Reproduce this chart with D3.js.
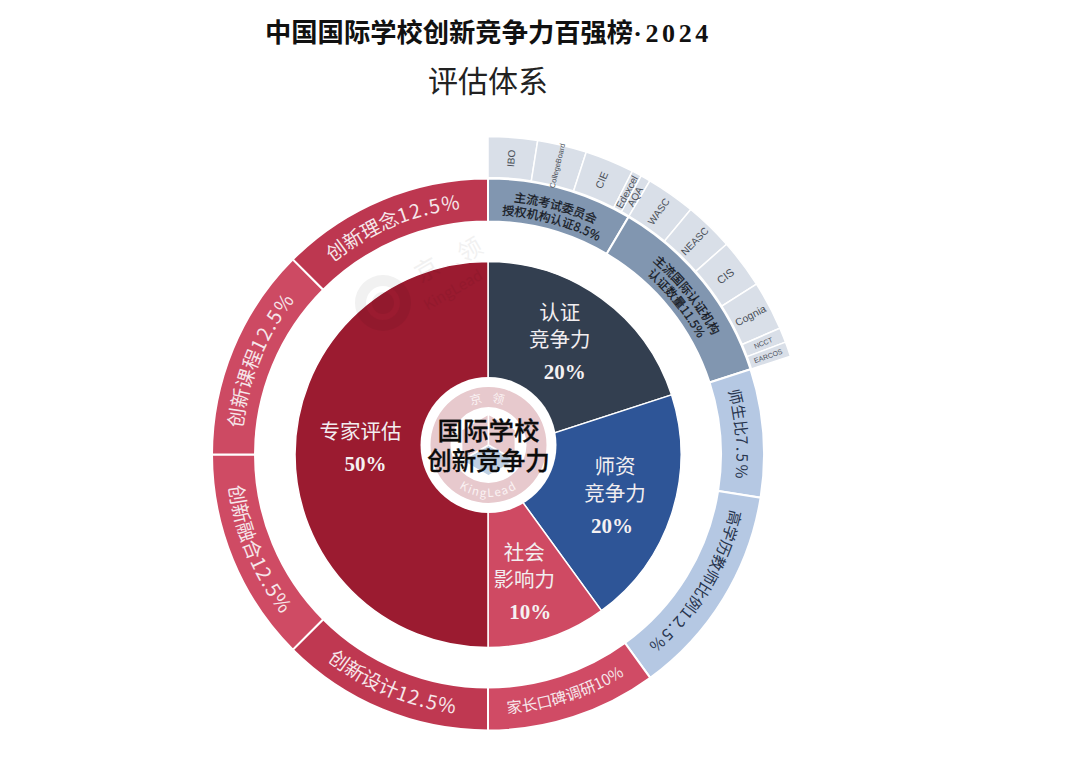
<!DOCTYPE html>
<html>
<head>
<meta charset="utf-8">
<script src="https://cdn.jsdelivr.net/npm/d3@7"></script>
<style>
  html, body { margin: 0; background: #fff; }
  text { font-family: "Noto Sans CJK SC", "Noto Sans", sans-serif; }
</style>
</head>
<body>
<div id="chart"></div>
<script>
// inner pie
const innerNames = [["认证", "竞争力"], ["师资", "竞争力"], ["社会", "影响力"], ["专家评估"]];
const innerValues = [20, 20, 10, 50];

// middle ring
const ringNames = ["主流考试委员会|授权机构认证8.5%", "主流国际认证机构|认证数量11.5%", "师生比7.5%", "高学历教师比例12.5%",
  "家长口碑调研10%", "创新设计12.5%", "创新融合12.5%", "创新课程12.5%", "创新理念12.5%"];
const ringValues = [8.5, 11.5, 7.5, 12.5, 10, 12.5, 12.5, 12.5, 12.5];

// outer ring, only over the certification part
const outerNames = ["IBO", "CollegeBoard", "CIE", "Edexcel", "AQA", "WASC", "NEASC", "CIS", "Cognia", "NCCT", "EARCOS"];
const outerValues = [2.5, 2.5, 2.5, 0.5, 0.5, 2.5, 2.5, 2.5, 2.5, 0.75, 0.75];

const width = 1080, height = 761;
const cx = 488, cy = 454.5;

const innerColors = ["#333f50", "#2e5597", "#cf4a63", "#9b1b30"];
const ringColors = ["#8196b0", "#8196b0", "#b5c8e3", "#b5c8e3", "#d04b65", "#bf3851", "#cf4b64", "#cd4a63", "#bd3750"];
const outerColor = "#d9dfe8";

const innerNudge = [[-5, -9, 5], [3, -1, -3], [-4, 1, 6], [3, -23, 5]];
const outerFont = [10, 7.5, 10.5, 10, 10, 10, 10, 11, 10.5, 7, 7];

const svg = d3.select("#chart").append("svg")
  .attr("width", width)
  .attr("height", height)
  .style("display", "block");

const angle = d3.scaleLinear().domain([0, 100]).range([0, 2 * Math.PI]);

function segments(values) {
  const ends = Array.from(d3.cumsum(values));
  return values.map((v, i) => ({
    index: i,
    startAngle: angle(ends[i] - v),
    endAngle: angle(ends[i])
  }));
}

// path along a circle, used by the curved labels
function arcLine(r, a0, a1, clockwise) {
  const p = d3.path();
  const s = a0 - Math.PI / 2, e = a1 - Math.PI / 2;
  p.moveTo(r * Math.cos(s), r * Math.sin(s));
  p.arc(0, 0, r, s, e, !clockwise);
  return p.toString();
}

let pathId = 0;
function curvedText(parent, str, r, a0, a1, clockwise, size, fill, opts = {}) {
  const id = "curve" + (pathId++);
  svg.select("defs").append("path").attr("id", id).attr("d", arcLine(r, a0, a1, clockwise));
  const t = parent.append("text")
    .attr("font-size", size)
    .attr("fill", fill)
    .attr("stroke", opts.stroke || "none")
    .attr("stroke-width", opts.stroke ? 0.25 : 0)
    .attr("text-anchor", "middle")
    .append("textPath")
    .attr("href", "#" + id)
    .attr("startOffset", "50%");
  if (opts.spacing) t.attr("letter-spacing", opts.spacing);
  // numbers in the ring labels are set wider than the Chinese
  const m = str.match(/^(.*?)([\d.]+%)$/);
  if (m) {
    t.append("tspan").text(m[1]);
    t.append("tspan").attr("letter-spacing", opts.numSpacing || 0).text(m[2]);
  } else {
    t.text(str);
  }
}

svg.append("defs");

// title
const title = svg.append("text")
  .attr("x", 265).attr("y", 42)
  .attr("font-weight", 700).attr("fill", "#111");
title.append("tspan").attr("font-size", 26.3).text("中国国际学校创新竞争力百强榜");
title.append("tspan")
  .attr("font-size", 26)
  .attr("letter-spacing", 3.6)
  .style("font-family", "'Liberation Serif', serif")
  .text("·2024");
svg.append("text")
  .attr("x", 488).attr("y", 92)
  .attr("text-anchor", "middle")
  .attr("font-size", 30).attr("fill", "#222")
  .text("评估体系");

const chart = svg.append("g").attr("transform", `translate(${cx},${cy})`);

const arcInner = d3.arc().innerRadius(0).outerRadius(193);
const arcRing = d3.arc().innerRadius(233).outerRadius(276);
const arcOuter = d3.arc().innerRadius(277).outerRadius(318);

const innerSeg = segments(innerValues);
const ringSeg = segments(ringValues);
const outerSeg = segments(outerValues);

chart.selectAll(".inner").data(innerSeg).join("path")
  .attr("class", "inner")
  .attr("d", arcInner)
  .attr("fill", d => innerColors[d.index])
  .attr("stroke", "#fff").attr("stroke-width", 1.5);

chart.selectAll(".ring").data(ringSeg).join("path")
  .attr("class", "ring")
  .attr("d", arcRing)
  .attr("fill", d => ringColors[d.index])
  .attr("stroke", "#fff").attr("stroke-width", 2);

chart.selectAll(".outer").data(outerSeg).join("path")
  .attr("class", "outer")
  .attr("d", arcOuter)
  .attr("fill", outerColor)
  .attr("stroke", "#fff").attr("stroke-width", 1.5);

// outer ring names run outward along the radius
chart.selectAll(".outerName").data(outerSeg).join("text")
  .attr("class", "outerName")
  .attr("transform", d => {
    const a = (d.startAngle + d.endAngle) / 2 * 180 / Math.PI;
    return `rotate(${a}) translate(0,-297) rotate(-90)`;
  })
  .attr("text-anchor", "middle")
  .attr("dy", "0.35em")
  .style("font-family", "'Liberation Sans', Arial, sans-serif")
  .attr("font-size", d => outerFont[d.index])
  .attr("fill", "#4a4f58")
  .text(d => outerNames[d.index]);

// ring labels
ringSeg.forEach(d => {
  const name = ringNames[d.index];
  const lower = d.index >= 4 && d.index <= 6; // these read the other way round
  if (name.includes("|")) {
    name.split("|").forEach((line, k) => {
      curvedText(chart, line, k === 0 ? 254 : 240, d.startAngle, d.endAngle, true, 12, "#15181e", { stroke: "#15181e" });
    });
  } else if (d.index < 4) {
    curvedText(chart, name, 248.5, d.startAngle, d.endAngle, true, 15.5, "#27344d", { numSpacing: 2 });
  } else if (lower) {
    const size = d.index === 4 ? 15.5 : 19.5;
    curvedText(chart, name, 254 + size * 0.36, d.endAngle, d.startAngle, false, size, "#f6e6ea",
      { numSpacing: d.index === 4 ? 0 : 1.5 });
  } else {
    curvedText(chart, name, 247, d.startAngle, d.endAngle, true, 19.5, "#f6e6ea", { numSpacing: 1.5 });
  }
});

// faint logo printed over the picture
const mark = svg.append("g").attr("opacity", 0.05).attr("fill", "#000");
mark.append("path")
  .attr("d", d3.arc().innerRadius(17).outerRadius(28)({ startAngle: 0, endAngle: 2 * Math.PI }))
  .attr("transform", "translate(383,303)");
mark.append("circle").attr("cx", 383).attr("cy", 303).attr("r", 11);
mark.append("text").attr("transform", "translate(427,270) rotate(-30)")
  .attr("font-size", 24).attr("dy", "0.35em").attr("text-anchor", "middle").text("京");
mark.append("text").attr("transform", "translate(470,250) rotate(-30)")
  .attr("font-size", 24).attr("dy", "0.35em").attr("text-anchor", "middle").text("领");
mark.append("text").attr("transform", "translate(453,290) rotate(-30)")
  .attr("font-size", 15).attr("dy", "0.35em").attr("text-anchor", "middle").text("KingLead");

// inner labels
innerSeg.forEach(d => {
  const [mx, my] = d3.arc().innerRadius(68).outerRadius(193).centroid(d);
  const [dx, dy, pctDx] = innerNudge[d.index];
  const g = chart.append("g").attr("transform", `translate(${mx + dx},${my + dy})`);
  const lines = innerNames[d.index];
  lines.forEach((line, k) => {
    g.append("text")
      .attr("y", (k - lines.length + 1) * 27)
      .attr("dy", "0.35em")
      .attr("text-anchor", "middle")
      .attr("font-size", 20.5)
      .attr("fill", "#f2eef0")
      .text(line);
  });
  g.append("text")
    .attr("x", pctDx)
    .attr("y", 32)
    .attr("dy", "0.35em")
    .attr("text-anchor", "middle")
    .attr("font-size", 21)
    .attr("font-weight", 700)
    .style("font-family", "'Liberation Serif', serif")
    .attr("fill", "#f5f1f2")
    .text(innerValues[d.index] + "%");
});

// centre badge
const lx = 488.5, ly = 445;
const badge = svg.append("g").attr("transform", `translate(${lx},${ly})`);
badge.append("circle").attr("r", 68).attr("fill", "#fff");
badge.append("path")
  .attr("d", d3.arc().innerRadius(38).outerRadius(58)({ startAngle: 0, endAngle: 2 * Math.PI }))
  .attr("fill", "#e7c9cd");

// cube made of three rhombi, two pink and one blue
const hex = d => d3.range(d.length).map(i => [d[i][1] * Math.sin(d[i][0]), -d[i][1] * Math.cos(d[i][0])]);
const deg = a => a * Math.PI / 180;
const cube = [
  { c: "#bfd0e3", pts: [[0, 0], [deg(120), 31], [deg(180), 31], [deg(240), 31]] },
  { c: "#e7c9cd", pts: [[0, 0], [deg(240), 31], [deg(300), 31], [deg(0), 31]] },
  { c: "#e7c9cd", pts: [[0, 0], [deg(0), 31], [deg(60), 31], [deg(120), 31]] }
];
badge.selectAll(".cube").data(cube).join("path")
  .attr("class", "cube")
  .attr("d", d => d3.line()(hex(d.pts)) + "Z")
  .attr("fill", d => d.c)
  .attr("stroke", "#fff").attr("stroke-width", 1.5);

curvedText(badge, "京  领", 43, deg(-40), deg(40), true, 12, "#fbf3f4", { spacing: 3 });
curvedText(badge, "KingLead", 52, deg(230), deg(130), false, 11.5, "#fbf3f4", { spacing: 1.5 });

badge.append("text")
  .attr("y", -14).attr("dy", "0.35em")
  .attr("text-anchor", "middle")
  .attr("font-size", 25.5).attr("font-weight", 500).attr("fill", "#0c0c0c")
  .attr("stroke", "#0c0c0c").attr("stroke-width", 0.3)
  .text("国际学校");
badge.append("text")
  .attr("y", 16).attr("dy", "0.35em")
  .attr("text-anchor", "middle")
  .attr("font-size", 24.5).attr("font-weight", 500).attr("fill", "#0c0c0c")
  .attr("stroke", "#0c0c0c").attr("stroke-width", 0.3)
  .text("创新竞争力");
</script>
</body>
</html>
